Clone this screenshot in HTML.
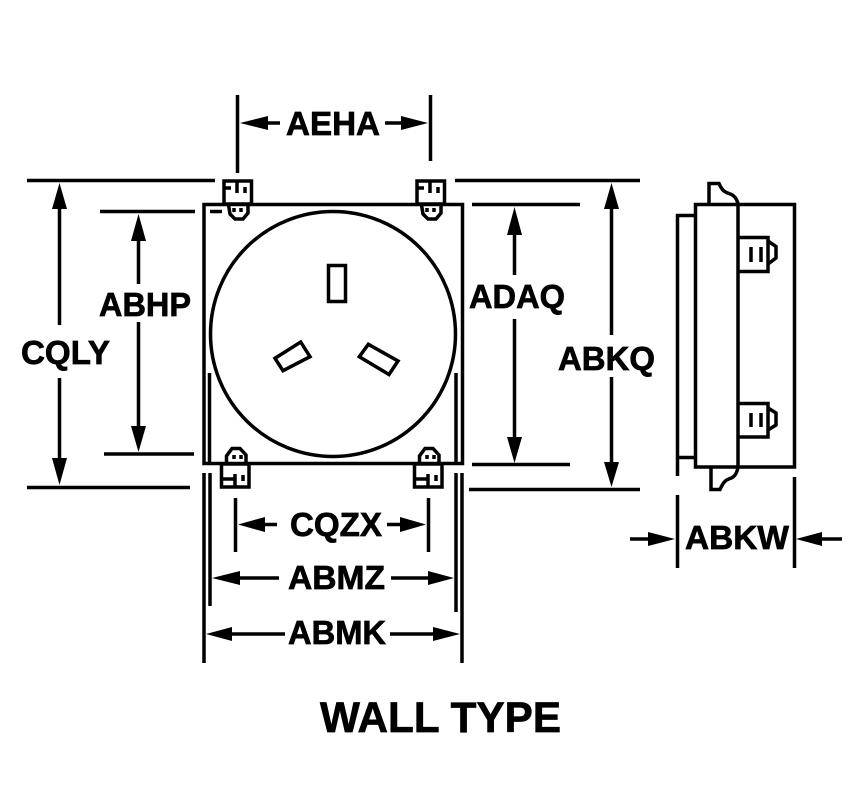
<!DOCTYPE html>
<html><head><meta charset="utf-8"><style>
html,body{margin:0;padding:0;background:#fff}
svg{display:block}
text{font-family:"Liberation Sans",sans-serif;font-weight:bold;font-size:33px;fill:#000;stroke:#000;stroke-width:.7px}
</style></head><body>
<svg width="864" height="808" viewBox="0 0 864 808" xmlns="http://www.w3.org/2000/svg">
<rect width="864" height="808" fill="#fff"/>
<g fill="none" stroke="#000" stroke-width="3.5">
<!-- plate -->
<rect x="204" y="204.500" width="258.500" height="259"/>
<circle cx="333" cy="334" r="122.500"/>
<rect x="328.500" y="265.500" width="17" height="36"/>
<polygon points="300.700,342 310,356.700 283,370.700 275,358.300"/>
<polygon points="368.300,344.300 398,361 389,374.500 359.300,356.700"/>
<path d="M209.500 373V463M456 373V463"/>
<!-- top connectors -->
<g><rect x="224" y="181" width="27.500" height="23" fill="#fff"/>
<path d="M224 188H231M237 180V193M245 187V193"/>
<path d="M228.500 205L230 214L235 219H243L248 213V205"/>
<path d="M234 208V212M241 208V212"/></g>
<g transform="translate(193,0)"><rect x="224" y="181" width="27.500" height="23" fill="#fff"/>
<path d="M224 188H231M237 180V193M245 187V193"/>
<path d="M228.500 205L230 214L235 219H243L248 213V205"/>
<path d="M234 208V212M241 208V212"/></g>
<!-- bottom connectors -->
<g><rect x="221.500" y="464" width="27.500" height="23" fill="#fff"/>
<path d="M222 479H234M235 474V487M243 475V481"/>
<path d="M226.500 463V456L232 448.500H240L246 455V463"/>
<path d="M234 455V459M241 455V459"/></g>
<g transform="translate(193,0)"><rect x="221.500" y="464" width="27.500" height="23" fill="#fff"/>
<path d="M222 479H234M235 474V487M243 475V481"/>
<path d="M226.500 463V456L232 448.500H240L246 455V463"/>
<path d="M234 455V459M241 455V459"/></g>
<!-- side view -->
<path d="M695.500 204.500H794.500V467H695.500ZM738 204.500V467"/>
<path d="M695 215.500H677.500V476M677.500 457.500H695"/>
<path d="M709 204V183.500H719C722 190 724 192 729 193.500C734 195 737 199 738 204"/>
<path d="M711 467V489.500H720C723 483 725 480 730 478.500C735 477 737 473 738 467"/>
<path d="M738 237.500H768V271.500H738M751 247V262M761 247V262M768 241L776 246.500V258L768 264"/>
<path d="M738 403.500H768V437H738M751 413V427M761 413V427M768 408L776 413V425L768 430"/>
<!-- extension lines -->
<path d="M27 180.500H215M27 487.500H190M100 211.500H195M210 211.500H222M104 454H194M472 204.500H580M472 464.500H570M455 180.500H640M469 489.500H640"/>
<path d="M237.500 95V173M430.500 95V161M235.500 498V552M428.500 498V552"/>
<path d="M210 473V606M456 473V612M204 473V663M462 473V663"/>
<path d="M677.500 495V568M794.500 477V568"/>
<!-- dimension shafts -->
<path d="M59.500 205V325M59.500 378V462"/>
<path d="M138.500 237V284M138.500 322V430"/>
<path d="M514.500 230V275M514.500 319V440"/>
<path d="M611.500 205V335M611.500 377V465"/>
<path d="M265 123H280M385 123H405"/>
<path d="M262 524.500H277M387 524.500H402"/>
<path d="M236 578H279M391 578H432"/>
<path d="M228 634H285M390 634H437"/>
<path d="M630 539H652M820 539H842"/>
</g>
<g fill="#000">
<polygon points="59.500,183 52,209 67,209"/><polygon points="59.500,485 52,458 67,458"/>
<polygon points="138.500,214 131,241 146,241"/><polygon points="138.500,452 131,426 146,426"/>
<polygon points="514.500,207 507,235 522,235"/><polygon points="514.500,463 507,437 522,437"/>
<polygon points="611.500,183 604,209 619,209"/><polygon points="611.500,487 604,462 619,462"/>
<polygon points="240,123 268,116 268,130"/><polygon points="428,123 401,116 401,130"/>
<polygon points="238,524.500 265,517 265,532"/><polygon points="426,524.500 400,517 400,532"/>
<polygon points="212,578 240,571 240,585"/><polygon points="454,578 428,571 428,585"/>
<polygon points="206,634 232,627 232,641"/><polygon points="460,634 433,627 433,641"/>
<polygon points="675,539 648,532 648,546"/><polygon points="796,539 822,532 822,546"/>
</g>
<text x="286" y="135" textLength="94" lengthAdjust="spacingAndGlyphs">AEHA</text>
<text x="21" y="364" textLength="89" lengthAdjust="spacingAndGlyphs">CQLY</text>
<text x="99" y="316" textLength="92" lengthAdjust="spacingAndGlyphs">ABHP</text>
<text x="469" y="308" textLength="96" lengthAdjust="spacingAndGlyphs">ADAQ</text>
<text x="558" y="370" textLength="97" lengthAdjust="spacingAndGlyphs">ABKQ</text>
<text x="290" y="536" textLength="92" lengthAdjust="spacingAndGlyphs">CQZX</text>
<text x="288" y="589" textLength="97" lengthAdjust="spacingAndGlyphs">ABMZ</text>
<text x="288" y="644" textLength="98" lengthAdjust="spacingAndGlyphs">ABMK</text>
<text x="685" y="549" textLength="104" lengthAdjust="spacingAndGlyphs">ABKW</text>
<text x="320" y="732" textLength="241" lengthAdjust="spacingAndGlyphs" style="font-size:43px">WALL TYPE</text>
</svg>
</body></html>
